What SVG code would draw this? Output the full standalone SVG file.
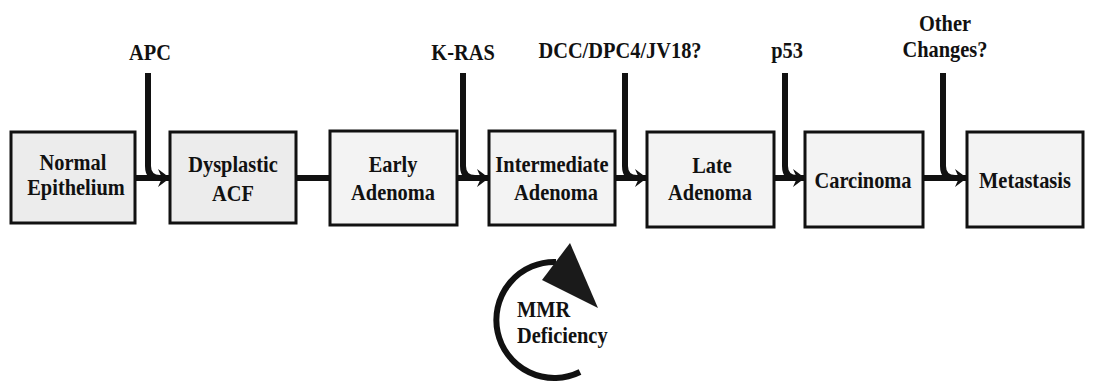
<svg xmlns="http://www.w3.org/2000/svg" width="1093" height="390" viewBox="0 0 1093 390" font-family="Liberation Serif, Times New Roman, DejaVu Serif, serif" font-weight="bold" font-size="24">
<style>
.box{fill:#f3f3f3;stroke:#111;stroke-width:3}
.t{fill:#111;text-anchor:middle}
.ts{fill:#111;text-anchor:start}
.ln{fill:none;stroke:#111;stroke-width:6}
</style>
<defs>
<marker id="ah" markerUnits="userSpaceOnUse" markerWidth="16" markerHeight="22" refX="14" refY="11" orient="auto">
<path d="M14 11 L2 2 L6 11 L2 20 Z" fill="#111"/>
</marker>
</defs>
<rect width="1093" height="390" fill="#fff"/>
<g id="connectors">
<line class="ln" x1="135" y1="178" x2="170" y2="178" marker-end="url(#ah)"/>
<path class="ln" d="M148 73 V166 Q148 178 160 178"/>
<line class="ln" x1="296" y1="178" x2="330" y2="178"/>
<line class="ln" x1="457" y1="178" x2="489" y2="178" marker-end="url(#ah)"/>
<path class="ln" d="M463 73 V166 Q463 178 475 178"/>
<line class="ln" x1="615" y1="178" x2="647" y2="178" marker-end="url(#ah)"/>
<path class="ln" d="M625 73 V166 Q625 178 637 178"/>
<line class="ln" x1="774" y1="178" x2="805" y2="178" marker-end="url(#ah)"/>
<path class="ln" d="M785 73 V166 Q785 178 797 178"/>
<line class="ln" x1="923" y1="178" x2="967" y2="178" marker-end="url(#ah)"/>
<path class="ln" d="M943 73 V166 Q943 178 955 178"/>
</g>
<g id="labels">
<text class="t" transform="translate(150 60) scale(0.85 1)">APC</text>
<text class="t" transform="translate(463 60) scale(0.85 1)">K-RAS</text>
<text class="t" transform="translate(620 58) scale(0.85 1)">DCC/DPC4/JV18?</text>
<text class="t" transform="translate(787 58) scale(0.85 1)">p53</text>
<text class="t" transform="translate(945 31) scale(0.85 1)">Other</text>
<text class="t" transform="translate(945 57) scale(0.85 1)">Changes?</text>
</g>
<g id="n1">
<rect class="box" x="11" y="132" width="124" height="91" style="fill:#ececec"/>
<text class="t" transform="translate(73 170) scale(0.85 1)">Normal</text>
<text class="t" transform="translate(76 195) scale(0.85 1)">Epithelium</text>
</g>
<g id="n2">
<rect class="box" x="170" y="132" width="126" height="91" style="fill:#ececec"/>
<text class="t" transform="translate(233 172) scale(0.85 1)">Dysplastic</text>
<text class="t" transform="translate(233 201) scale(0.85 1)">ACF</text>
</g>
<g id="n3">
<rect class="box" x="330" y="131" width="127" height="94"/>
<text class="t" transform="translate(393 172) scale(0.85 1)">Early</text>
<text class="t" transform="translate(393 200) scale(0.85 1)">Adenoma</text>
</g>
<g id="n4">
<rect class="box" x="489" y="131" width="126" height="94"/>
<text class="t" transform="translate(552 172) scale(0.85 1)">Intermediate</text>
<text class="t" transform="translate(556 200) scale(0.85 1)">Adenoma</text>
</g>
<g id="n5">
<rect class="box" x="647" y="132" width="127" height="95"/>
<text class="t" transform="translate(712 173) scale(0.85 1)">Late</text>
<text class="t" transform="translate(710 200) scale(0.85 1)">Adenoma</text>
</g>
<g id="n6">
<rect class="box" x="805" y="132" width="118" height="95"/>
<text class="t" transform="translate(863 188) scale(0.85 1)">Carcinoma</text>
</g>
<g id="n7">
<rect class="box" x="967" y="132" width="116" height="95"/>
<text class="t" transform="translate(1025 188) scale(0.85 1)">Metastasis</text>
</g>
<g id="mmr">
<path d="M580 372 A58 58 0 1 1 556 262" fill="none" stroke="#111" stroke-width="6"/>
<polygon points="570,243 598,308 542,280" fill="#1a1a1a"/>
<text class="ts" transform="translate(517 317) scale(0.85 1)">MMR</text>
<text class="ts" transform="translate(517 343) scale(0.85 1)">Deficiency</text>
</g>
</svg>
